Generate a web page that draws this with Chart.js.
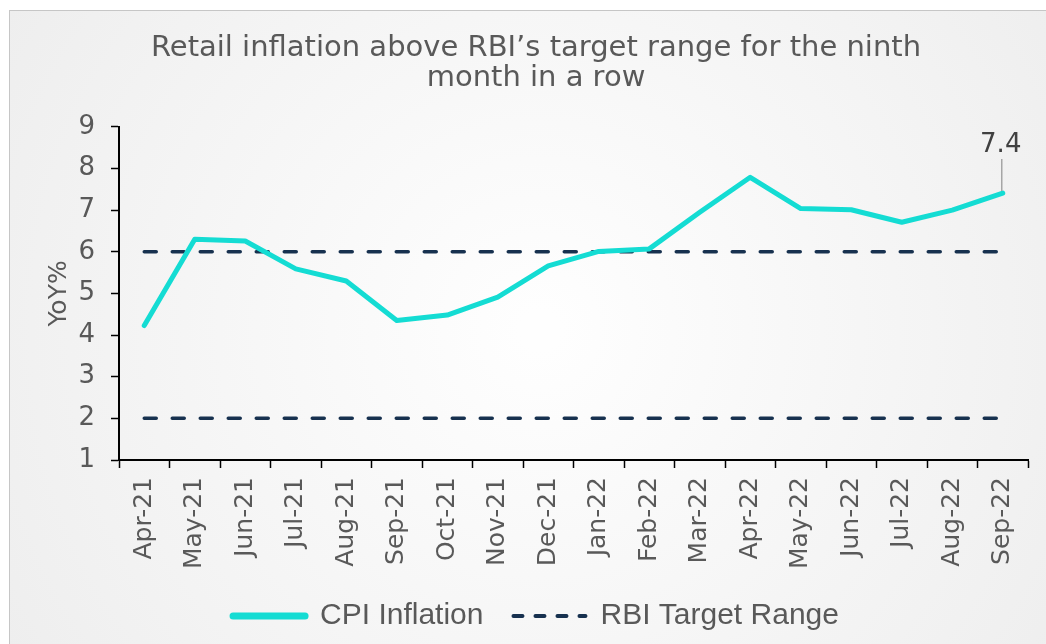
<!DOCTYPE html>
<html><head><meta charset="utf-8">
<script src="https://cdn.jsdelivr.net/npm/chart.js@4.4.1/dist/chart.umd.min.js"></script>
<style>html,body{margin:0;padding:0;background:#fff}#wrap{width:1046px;height:644px}</style>
</head><body><div id="wrap"><canvas id="c" width="1046" height="644"></canvas></div>
<script>
const categories = ['Apr-21','May-21','Jun-21','Jul-21','Aug-21','Sep-21','Oct-21','Nov-21','Dec-21','Jan-22','Feb-22','Mar-22','Apr-22','May-22','Jun-22','Jul-22','Aug-22','Sep-22'];
const cpiInflation = [4.23,6.30,6.26,5.59,5.30,4.35,4.48,4.91,5.66,6.01,6.07,6.95,7.79,7.04,7.01,6.71,7.00,7.41];
const rbiUpper = [6,6,6,6,6,6,6,6,6,6,6,6,6,6,6,6,6,6];
const rbiLower = [2,2,2,2,2,2,2,2,2,2,2,2,2,2,2,2,2,2];
const yMin = 1, yMax = 9, yStep = 1;
const titleLines = ["Retail inflation above RBI\u2019s target range for the ninth", "month in a row"];
const annotatedIndex = 17;

const FONT = "'DejaVu Sans', sans-serif";
const TXT = '#595959';

const bgPlugin = {
  id: 'bg',
  beforeDraw(chart) {
    const ctx = chart.ctx;
    ctx.save();
    ctx.fillStyle = '#ffffff';
    ctx.fillRect(0, 0, chart.width, chart.height);
    const g = ctx.createRadialGradient(540, 330, 20, 540, 330, 620);
    g.addColorStop(0, '#fefefe');
    g.addColorStop(1, '#eeeeee');
    ctx.fillStyle = g;
    ctx.fillRect(9, 10, chart.width - 9, chart.height - 10);
    ctx.strokeStyle = '#c6c6c6';
    ctx.lineWidth = 1;
    ctx.strokeRect(9.5, 10.5, chart.width + 10, chart.height + 10);
    ctx.restore();
  }
};

const annoPlugin = {
  id: 'anno',
  afterDatasetsDraw(chart) {
    const meta = chart.getDatasetMeta(0);
    const pt = meta.data[annotatedIndex];
    if (!pt) return;
    const ctx = chart.ctx;
    ctx.save();
    ctx.strokeStyle = '#a6a6a6';
    ctx.lineWidth = 1.5;
    ctx.beginPath();
    ctx.moveTo(pt.x - 1, pt.y - 2);
    ctx.lineTo(pt.x - 1, pt.y - 34);
    ctx.stroke();
    ctx.fillStyle = '#404040';
    ctx.font = "26px " + FONT;
    ctx.textAlign = 'center';
    ctx.textBaseline = 'alphabetic';
    ctx.fillText(cpiInflation[annotatedIndex].toFixed(1), pt.x - 2, pt.y - 41);
    ctx.restore();
  }
};

new Chart(document.getElementById('c'), {
  type: 'line',
  data: {
    labels: categories,
    datasets: [
      { label: 'CPI Inflation', data: cpiInflation, borderColor: '#14dcd3', backgroundColor: '#14dcd3',
        borderWidth: 5, pointRadius: 0, tension: 0, borderCapStyle: 'round', borderJoinStyle: 'round' },
      { label: 'RBI Target Range', data: rbiUpper, borderColor: '#17314f', backgroundColor: '#17314f',
        borderWidth: 3.5, borderDash: [12, 16], borderCapStyle: 'round', pointRadius: 0 },
      { label: 'RBI Target Range lower', data: rbiLower, borderColor: '#17314f', backgroundColor: '#17314f',
        borderWidth: 3.5, borderDash: [12, 16], borderCapStyle: 'round', pointRadius: 0 }
    ]
  },
  options: {
    responsive: false,
    animation: false,
    devicePixelRatio: 1,
    layout: { padding: { left: 44, right: 18, top: 10, bottom: 3 } },
    plugins: {
      tooltip: { enabled: false },
      title: {
        display: true, text: titleLines, color: TXT,
        font: { family: FONT, size: 29, weight: 'normal', lineHeight: 1.05 },
        padding: { top: 23, bottom: 33 }
      },
      legend: {
        position: 'bottom',
        labels: {
          color: TXT,
          font: { family: "'Liberation Sans', sans-serif", size: 30 },
          usePointStyle: true,
          pointStyleWidth: 72,
          padding: 30,
          generateLabels(chart) {
            return chart.data.datasets.slice(0, 2).map((ds, i) => ({
              text: ds.label,
              fillStyle: ds.borderColor,
              strokeStyle: ds.borderColor,
              fontColor: TXT,
              lineWidth: i === 0 ? 7 : 4,
              lineDash: i === 0 ? [] : [9, 13],
              lineCap: 'round',
              pointStyle: 'line',
              hidden: false,
              datasetIndex: i
            }));
          }
        }
      }
    },
    scales: {
      x: {
        type: 'category',
        offset: true,
        afterFit(scale) { scale.height = 111; },
        grid: { display: true, drawOnChartArea: false, drawTicks: true, tickLength: 8, tickColor: '#000', tickWidth: 1.5, offset: true },
        border: { display: true, color: '#000', width: 2 },
        ticks: { color: TXT, font: { family: FONT, size: 25 }, minRotation: 90, maxRotation: 90, padding: 9, autoSkip: false }
      },
      y: {
        min: yMin, max: yMax,
        afterFit(scale) { scale.width = 75; },
        grid: { display: true, drawOnChartArea: false, drawTicks: true, tickLength: 8, tickColor: '#000', tickWidth: 1.5 },
        border: { display: true, color: '#000', width: 2 },
        ticks: { stepSize: yStep, color: TXT, font: { family: FONT, size: 26 }, padding: 16 },
        title: { display: true, text: 'YoY%', color: TXT, font: { family: FONT, size: 25, lineHeight: 1.2 }, padding: { top: 0, bottom: 0 } }
      }
    }
  },
  plugins: [bgPlugin, annoPlugin]
});
</script>
</body></html>
